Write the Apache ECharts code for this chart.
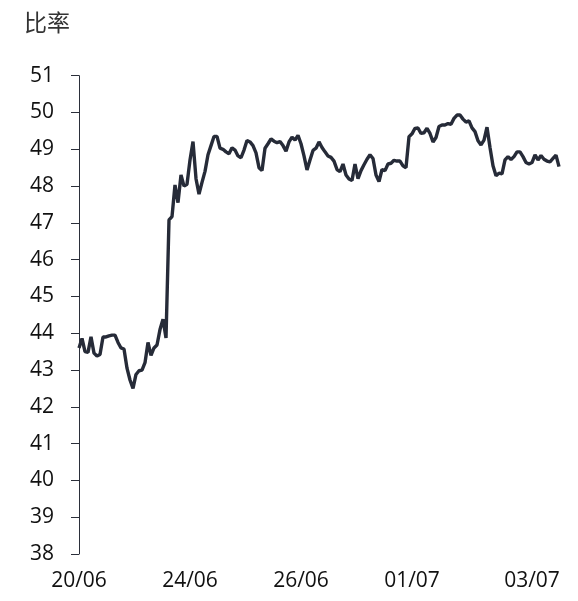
<!DOCTYPE html>
<html>
<head>
<meta charset="utf-8">
<script src="https://cdn.jsdelivr.net/npm/echarts@6/dist/echarts.min.js"></script>
<style>
html,body{margin:0;padding:0;background:#fff;}
#chart{width:578px;height:601px;}
</style>
</head>
<body>
<div id="chart"></div>
<script>
const titleText = "比率";
const tickLabels = ["20/06", "24/06", "26/06", "01/07", "03/07"];
const tickIndices = [0, 37, 74, 111, 151];
const values = [
  43.6, 43.86, 43.5, 43.48, 43.9, 43.46, 43.38, 43.42, 43.9, 43.9,
  43.93, 43.95, 43.95, 43.75, 43.6, 43.57, 43.05, 42.73, 42.5, 42.88,
  42.98, 43.0, 43.2, 43.75, 43.4, 43.6, 43.68, 44.1, 44.38, 43.87,
  47.08, 47.17, 48.03, 47.55, 48.3, 48.0, 48.05, 48.71, 49.21, 48.2,
  47.78, 48.1, 48.4, 48.85, 49.1, 49.35, 49.35, 49.03, 49.0, 48.93,
  48.88, 49.04, 48.98, 48.82, 48.77, 48.98, 49.24, 49.2, 49.1, 48.9,
  48.5, 48.42, 49.03, 49.15, 49.28, 49.22, 49.18, 49.21, 49.1, 48.95,
  49.2, 49.33, 49.25, 49.38, 49.15, 48.82, 48.44, 48.71, 48.97, 49.03,
  49.2, 49.05, 48.93, 48.82, 48.78, 48.68, 48.45, 48.39, 48.6, 48.3,
  48.19, 48.15, 48.6, 48.2, 48.42, 48.58, 48.73, 48.85, 48.75, 48.3,
  48.12, 48.45, 48.42, 48.6, 48.62, 48.7, 48.68, 48.68, 48.55, 48.5,
  49.34, 49.42, 49.57, 49.58, 49.43, 49.45, 49.57, 49.43, 49.2, 49.32,
  49.62, 49.66, 49.66, 49.7, 49.68, 49.84, 49.93, 49.93, 49.82, 49.74,
  49.77, 49.58, 49.48, 49.23, 49.12, 49.25, 49.6, 49.05, 48.55, 48.28,
  48.35, 48.33, 48.71, 48.8, 48.72, 48.8, 48.93, 48.93, 48.8, 48.64,
  48.6, 48.64, 48.85, 48.71, 48.83, 48.73, 48.68, 48.66, 48.75, 48.84,
  48.53
];
const yMin = 38, yMax = 51, yStep = 1;

const categories = values.map((v, i) => {
  const k = tickIndices.indexOf(i);
  return k >= 0 ? tickLabels[k] : "p" + i;
});

const chart = echarts.init(document.getElementById('chart'), null, {renderer: 'canvas'});
chart.setOption({
  animation: false,
  backgroundColor: '#ffffff',
  title: {
    text: titleText,
    left: 19, top: 6,
    textStyle: {fontFamily: 'Noto Sans CJK SC', fontSize: 23, fontWeight: 'normal', color: '#333333'}
  },
  grid: {left: 79, right: 19, top: 75.7, bottom: 47, containLabel: false},
  xAxis: {
    type: 'category',
    data: categories,
    boundaryGap: false,
    axisLine: {show: false},
    axisTick: {show: false},
    splitLine: {show: false},
    axisLabel: {
      interval: (idx) => tickIndices.indexOf(idx) >= 0,
      formatter: (v) => v,
      margin: 17,
      fontFamily: 'Open Sans', fontSize: 21, color: '#111111'
    }
  },
  yAxis: {
    type: 'value',
    min: yMin, max: yMax, interval: yStep,
    axisLine: {show: true, lineStyle: {color: '#2b2f3a', width: 1}},
    axisTick: {show: true, inside: false, length: 8, lineStyle: {color: '#2b2f3a'}},
    splitLine: {show: false},
    axisLabel: {margin: 25, fontFamily: 'Open Sans', fontSize: 21, color: '#111111'}
  },
  series: [{
    type: 'line',
    data: values,
    symbol: 'none',
    lineStyle: {color: '#262b38', width: 3.4},
    itemStyle: {color: '#262b38'}
  }]
});
</script>
</body>
</html>
